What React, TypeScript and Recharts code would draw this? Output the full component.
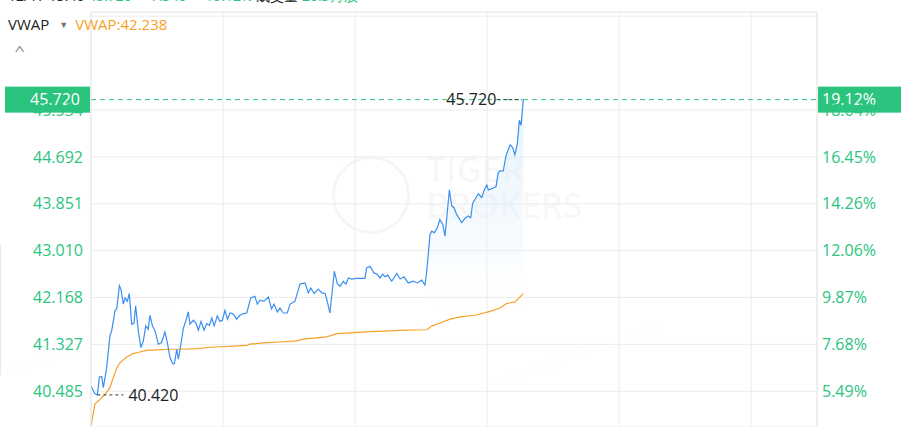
import React from 'react'
import {
  Area,
  CartesianGrid,
  ComposedChart,
  Line,
  ReferenceDot,
  ReferenceLine,
  XAxis,
  YAxis,
} from 'recharts'

// minutes since 9:30 (HK session, 330 trading minutes)
const priceMinutes = [
  0, 1.8, 2.9, 3.8, 4.9, 5.6, 7.1, 8.6, 9.4, 10.9, 11.7, 12.9, 13.6, 14.7, 15.5, 16.5, 17.4, 18.5,
  19.5, 20.3, 21.5, 22.7, 23.8, 24.9, 26.0, 26.8, 27.9, 29.1, 30.6, 32.1, 33.6, 34.7, 35.9, 37.1,
  37.9, 39.0, 39.7, 40.5, 42.0, 43.2, 44.2, 45.0, 46.5, 47.7, 48.8, 50.0, 51.4, 52.6, 53.8, 54.9,
  56.0, 57.4, 58.6, 59.7, 60.9, 62.0, 63.2, 64.7, 66.2, 67.7, 69.2, 70.8, 72.6, 74.5, 75.6, 76.8,
  78.6, 80.6, 82.1, 83.2, 84.7, 85.9, 87.4, 89.2, 90.5, 92.7, 95.0, 97.3, 98.8, 99.9, 101.4, 103.3,
  104.9, 106.4, 107.4, 108.6, 110.6, 112.0, 113.2, 114.7, 115.9, 117.0, 118.5, 120.8, 124.5, 125.3,
  126.8, 128.6, 129.9, 131.4, 132.6, 133.6, 134.9, 136.7, 139.0, 140.5, 142.3, 144.2, 146.5, 148.3,
  150.3, 151.8, 152.6, 154.1, 154.9, 156.0, 157.4, 158.6, 159.9, 160.9, 161.7, 162.9, 164.0, 165.0,
  166.2, 168.5, 170.0, 171.5, 172.6, 173.5, 175.0, 176.0, 177.6, 178.6, 179.9, 180.6, 182.6, 184.1,
  185.1, 185.9, 187.4, 188.6, 190.5, 191.7, 192.7, 193.8, 194.7, 195.5, 196.5,
]
const prices = [
  40.58, 40.44, 40.42, 40.74, 40.75, 40.55, 40.9, 41.48, 41.57, 41.93, 41.97, 42.38, 42.32, 42.05,
  42.16, 42.1, 42.24, 41.69, 41.7, 42.02, 41.57, 41.27, 41.39, 41.66, 41.6, 41.85, 41.66, 41.57,
  41.33, 41.36, 41.55, 41.36, 41.09, 40.98, 40.98, 41.24, 41.06, 41.24, 41.62, 41.76, 41.91, 41.69,
  41.76, 41.71, 41.58, 41.74, 41.58, 41.7, 41.67, 41.8, 41.66, 41.84, 41.74, 41.76, 41.94, 41.78,
  41.89, 41.87, 41.78, 41.85, 41.88, 41.89, 42.16, 42.19, 42.05, 42.12, 42.1, 42.18, 41.96, 42.05,
  41.91, 41.98, 41.89, 41.89, 42.05, 42.1, 42.41, 42.43, 42.25, 42.34, 42.24, 42.32, 42.25, 42.24,
  42.1, 41.89, 42.64, 42.41, 42.37, 42.46, 42.41, 42.52, 42.5, 42.51, 42.51, 42.7, 42.73, 42.61,
  42.59, 42.52, 42.59, 42.54, 42.57, 42.46, 42.6, 42.5, 42.54, 42.43, 42.46, 42.43, 42.48, 42.39,
  42.64, 43.3, 43.36, 43.33, 43.42, 43.57, 43.48, 43.27, 43.6, 44.1, 43.81, 43.78, 43.66, 43.51,
  43.59, 43.63, 43.6, 43.86, 43.96, 44.03, 43.96, 44.08, 44.19, 44.1, 44.13, 44.16, 44.41, 44.44,
  44.44, 44.71, 44.91, 44.86, 44.73, 44.93, 45.35, 45.26, 45.72,
]

const vwapMinutes = [
  0, 1.8, 4.1, 6.4, 8.6, 10.1, 11.7, 13.2, 16.2, 19.2, 22.3, 25.3, 29.9, 35.9, 40.5, 48.0, 55.6,
  63.2, 70.8, 72.3, 78.3, 85.9, 93.5, 96.5, 107.1, 111.7, 125.3, 140.5, 152.6, 154.9, 158.6, 163.2,
  167.7, 174.5, 181.4, 185.9, 188.9, 192.7, 196.5,
]
const vwapValues = [
  39.86, 40.26, 40.34, 40.43, 40.55, 40.73, 40.9, 41.0, 41.1, 41.16, 41.19, 41.22, 41.23, 41.24,
  41.24, 41.25, 41.28, 41.29, 41.31, 41.33, 41.355, 41.37, 41.39, 41.42, 41.46, 41.52, 41.55, 41.58,
  41.59, 41.655, 41.71, 41.78, 41.82, 41.85, 41.92, 41.98, 42.06, 42.09, 42.238,
]

const priceTicks = [40.485, 41.327, 42.168, 43.01, 43.851, 44.692, 45.534, 47.217]
const priceTickLabels = ['40.485', '41.327', '42.168', '43.010', '43.851', '44.692', '45.534', '']
const pctTickLabels = ['5.49%', '7.68%', '9.87%', '12.06%', '14.26%', '16.45%', '18.64%', '']
const hourTicks = [0, 60, 120, 180, 240, 300]

const lastPriceLabel = '45.720'
const lastPctLabel = '19.12%'
const vwapLabel = 'VWAP:42.238'
const surgeStart = 152.6

const GREEN = '#2ac47e'
const BLUE = '#3b8ff0'
const ORANGE = '#f7a127'
const FONT = '"Open Sans", "Noto Sans", sans-serif'
const FS = 16

const priceData = priceMinutes.map((m, i) => ({ m, price: prices[i] }))
const vwapData = vwapMinutes.map((m, i) => ({ m, vwap: vwapValues[i] }))
const fillData = priceData.filter((d) => d.m >= surgeStart)

const lastPoint = priceData[priceData.length - 1]
const minPoint = priceData.reduce((a, b) => (b.price < a.price ? b : a))
const maxPoint = priceData.reduce((a, b) => (b.price > a.price ? b : a))

function PriceBoxes(props: any) {
  const vb = props.viewBox
  if (!vb) return null
  const { x, y, width } = vb
  return (
    <g>
      <rect x={x - 86} y={y - 13} width={85} height={26} fill={GREEN} />
      <text x={x - 11} y={y} dy="0.36em" textAnchor="end" fill="#fff" fontSize={FS} fontFamily={FONT}>
        {lastPriceLabel}
      </text>
      <rect x={x + width + 1} y={y - 13} width={90} height={26} fill={GREEN} />
      <text x={x + width + 5} y={y} dy="0.36em" fill="#fff" fontSize={FS} fontFamily={FONT}>
        {lastPctLabel}
      </text>
    </g>
  )
}

function MaxMarker(props: any) {
  const { cx, cy } = props
  return (
    <g>
      <line x1={cx - 26} y1={cy} x2={cx - 1} y2={cy} stroke="#333" strokeDasharray="3 3" />
      <text x={cx - 27} y={cy} dy="0.36em" textAnchor="end" fill="#222" fontSize={FS} fontFamily={FONT}>
        {maxPoint.price.toFixed(3)}
      </text>
    </g>
  )
}

function MinMarker(props: any) {
  const { cx, cy } = props
  return (
    <g>
      <line x1={cx} y1={cy} x2={cx + 26} y2={cy} stroke="#333" strokeDasharray="3 3" />
      <text x={cx + 31} y={cy} dy="0.36em" fill="#222" fontSize={FS} fontFamily={FONT}>
        {minPoint.price.toFixed(3)}
      </text>
    </g>
  )
}

const stamp: React.CSSProperties = {
  position: 'absolute',
  color: 'rgba(0,0,0,0.03)',
  fontSize: 17,
  whiteSpace: 'nowrap',
  transform: 'rotate(-20deg)',
  transformOrigin: 'left center',
}

export default function App() {
  return (
    <div
      style={{
        position: 'absolute',
        left: 0,
        top: 0,
        width: 901,
        height: 427,
        overflow: 'hidden',
        background: '#fff',
        fontFamily: FONT,
      }}
    >
      {/* watermark */}
      <div
        style={{
          position: 'absolute',
          left: 332,
          top: 156,
          width: 72,
          height: 72,
          borderRadius: '50%',
          border: '3px solid rgba(0,0,0,0.04)',
        }}
      />
      <div
        style={{
          position: 'absolute',
          left: 426,
          top: 151,
          fontSize: 35,
          lineHeight: '36px',
          fontWeight: 600,
          color: 'rgba(0,0,0,0.045)',
        }}
      >
        TIGER
        <br />
        BROKERS
      </div>
      <div style={{ ...stamp, left: 495, top: 372 }}>PC1-2025-12-17 13:46</div>
      <div style={{ ...stamp, left: 10, top: 360 }}>PC1-2025-12-17 13:46</div>
      <div
        style={{ position: 'absolute', left: 0, top: 245, width: 1, height: 130, background: '#e6e9ee' }}
      />

      <div style={{ position: 'absolute', left: 0, top: 0 }}>
        <ComposedChart
          width={901}
          height={427}
          margin={{ top: 12, right: 0, bottom: 0, left: 0 }}
        >
          <defs>
            <linearGradient id="surgeFill" x1="0" y1="0" x2="0" y2="1">
              <stop offset="0%" stopColor="#cfe8fb" stopOpacity={0.85} />
              <stop offset="45%" stopColor="#e3f2fd" stopOpacity={0.5} />
              <stop offset="65%" stopColor="#ffffff" stopOpacity={0} />
            </linearGradient>
          </defs>
          <CartesianGrid stroke="#ececec" yAxisId="left" xAxisId="t" />
          <XAxis
            xAxisId="t"
            dataKey="m"
            type="number"
            domain={[0, 330]}
            ticks={hourTicks}
            allowDataOverflow
            hide
          />
          <YAxis
            yAxisId="left"
            orientation="left"
            type="number"
            domain={[39.844, 47.293]}
            allowDataOverflow
            ticks={priceTicks}
            interval={0}
            width={91}
            axisLine={{ stroke: '#e8e8e8' }}
            tickLine={false}
            tickFormatter={(_v: number, i: number) => priceTickLabels[i] ?? ''}
            tick={{ fill: GREEN, fontSize: FS, fontFamily: FONT }}
          />
          <YAxis
            yAxisId="right"
            orientation="right"
            type="number"
            domain={[39.844, 47.293]}
            allowDataOverflow
            ticks={priceTicks}
            interval={0}
            width={84}
            tickSize={3}
            axisLine={{ stroke: '#e8e8e8' }}
            tickLine={false}
            tickFormatter={(_v: number, i: number) => pctTickLabels[i] ?? ''}
            tick={{ fill: GREEN, fontSize: FS, fontFamily: FONT, textAnchor: 'start' }}
          />
          <ReferenceLine
            yAxisId="left"
            xAxisId="t"
            y={47.293}
            stroke="#ececec"
          />
          <Area
            xAxisId="t"
            yAxisId="left"
            data={fillData}
            dataKey="price"
            type="linear"
            stroke="none"
            fill="url(#surgeFill)"
            baseValue="dataMin"
            isAnimationActive={false}
          />
          <Line
            xAxisId="t"
            yAxisId="right"
            data={priceData}
            dataKey="price"
            stroke="none"
            dot={false}
            activeDot={false}
            legendType="none"
            isAnimationActive={false}
          />
          <Line
            xAxisId="t"
            yAxisId="left"
            data={vwapData}
            dataKey="vwap"
            type="linear"
            stroke={ORANGE}
            strokeWidth={1.2}
            dot={false}
            isAnimationActive={false}
          />
          <Line
            xAxisId="t"
            yAxisId="left"
            data={priceData}
            dataKey="price"
            type="linear"
            stroke={BLUE}
            strokeWidth={1.2}
            dot={false}
            isAnimationActive={false}
          />
          <ReferenceLine
            xAxisId="t"
            yAxisId="left"
            y={lastPoint.price}
            stroke={GREEN}
            strokeDasharray="5 4"
            label={<PriceBoxes />}
          />
          <ReferenceDot
            xAxisId="t"
            yAxisId="left"
            x={maxPoint.m}
            y={maxPoint.price}
            shape={<MaxMarker />}
          />
          <ReferenceDot
            xAxisId="t"
            yAxisId="left"
            x={minPoint.m}
            y={minPoint.price}
            shape={<MinMarker />}
          />
        </ComposedChart>
      </div>

      {/* header */}
      <div
        style={{
          position: 'absolute',
          left: 8,
          top: -11,
          fontSize: 14,
          lineHeight: '14px',
          whiteSpace: 'nowrap',
          color: '#222',
        }}
      >
        12/17 13:46{' '}
        <span style={{ color: GREEN }}>45.720&nbsp;&nbsp; +7.340&nbsp;&nbsp; +19.12%</span> 成交量{' '}
        <span style={{ color: GREEN }}>20.3万股</span>
      </div>
      <div
        style={{
          position: 'absolute',
          left: 8,
          top: 15,
          fontSize: 15,
          lineHeight: '19px',
          whiteSpace: 'nowrap',
          color: '#222',
        }}
      >
        VWAP
        <span style={{ color: '#777', fontSize: 9, marginLeft: 10, position: 'relative', top: -2 }}>▼</span>
        <span style={{ color: ORANGE, marginLeft: 7 }}>{vwapLabel}</span>
      </div>
      <div
        style={{
          position: 'absolute',
          left: 16,
          top: 41,
          fontSize: 13,
          color: '#888',
          transform: 'scaleX(1.4)',
        }}
      >
        ^
      </div>
    </div>
  )
}
